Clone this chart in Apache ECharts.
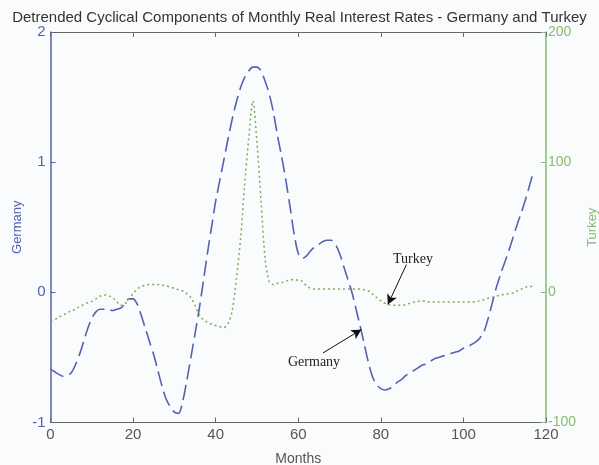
<!DOCTYPE html>
<html>
<head>
<meta charset="utf-8">
<script src="https://cdn.jsdelivr.net/npm/echarts@6/dist/echarts.min.js"></script>
<style>
html,body{margin:0;padding:0;background:#f9fbfd;}
#c{width:599px;height:465px;}
</style>
</head>
<body>
<div id="c"></div>
<script>
const months = [];
for (let m = 0; m <= 117; m++) months.push(m);

const germany = [
 -0.59,-0.61,-0.63,-0.645,-0.64,-0.62,-0.56,-0.48,-0.38,-0.28,
 -0.20,-0.15,-0.13,-0.13,-0.13,-0.14,-0.13,-0.12,-0.09,-0.05,
 -0.05,-0.09,-0.18,-0.28,-0.38,-0.48,-0.60,-0.72,-0.82,-0.88,
 -0.92,-0.93,-0.84,-0.68,-0.50,-0.32,-0.13,0.08,0.30,0.50,
 0.70,0.86,1.02,1.18,1.33,1.46,1.57,1.65,1.70,1.73,
 1.73,1.70,1.62,1.52,1.38,1.20,1.04,0.86,0.66,0.45,
 0.30,0.26,0.28,0.32,0.35,0.37,0.39,0.40,0.40,0.37,
 0.30,0.20,0.10,0.00,-0.13,-0.26,-0.40,-0.54,-0.65,-0.71,
 -0.74,-0.75,-0.74,-0.72,-0.69,-0.67,-0.64,-0.62,-0.60,-0.58,
 -0.56,-0.55,-0.53,-0.51,-0.50,-0.49,-0.48,-0.47,-0.46,-0.45,
 -0.43,-0.42,-0.40,-0.38,-0.35,-0.30,-0.20,-0.08,0.04,0.14,
 0.23,0.32,0.42,0.52,0.61,0.71,0.82,0.93
];

const turkey = [
 -22,-21,-19,-17.5,-16,-14,-13,-11,-9.5,-8,
 -7,-5,-3,-2,-2.5,-4,-7,-10,-9,-5,
 -1,2.5,4.5,5.5,6,6,6,5.5,5,4,
 3,2,1,-1,-4,-10,-17,-21,-23,-24.5,
 -25.5,-26.5,-27,-24,-14,10,40,82,118,147,
 115,70,25,8,6,7,7.5,8.5,9.5,10,
 9,8.5,5,3,2.5,2.5,2.5,2.5,2.5,2.5,
 2.5,2.5,2.5,2.5,2.5,2.5,2,1,-1.5,-4,
 -6.5,-8.5,-9.5,-10,-10,-10,-9.5,-8.5,-7.5,-7,
 -6.5,-7,-7.5,-7.5,-7.5,-7.5,-7.5,-7.5,-7.5,-7.5,
 -7.5,-7.5,-7.5,-7,-6.5,-5.5,-4.5,-4,-3,-2,
 -1.5,-1,-0.5,1,2.5,4,4.5,4.5
];

const titleText = 'Detrended Cyclical Components of Monthly Real Interest Rates - Germany and Turkey';

const blue = '#5462b0';
const green = '#86bd6e';
const gray = '#555555';

const chart = echarts.init(document.getElementById('c'), null, {renderer: 'canvas'});
chart.setOption({
  backgroundColor: '#f9fbfd',
  animation: false,
  title: {
    text: titleText,
    left: 'center',
    top: 5,
    textStyle: {fontFamily: 'Liberation Sans', fontSize: 15, fontWeight: 'normal', color: '#333'}
  },
  grid: {left: 50.5, right: 53, top: 32, bottom: 42.5, containLabel: false, outerBoundsMode: 'none'},
  xAxis: [{
    type: 'value', min: 0, max: 120, interval: 20, position: 'bottom',
    name: 'Months', nameLocation: 'middle', nameGap: 30,
    nameTextStyle: {fontFamily: 'Liberation Sans', fontSize: 14, color: gray},
    axisLine: {onZero: false, lineStyle: {color: '#666', width: 1}},
    axisTick: {inside: true, length: 5, lineStyle: {color: '#666'}},
    axisLabel: {fontFamily: 'Liberation Sans', fontSize: 15, color: gray, margin: 5},
    splitLine: {show: false}
  }, {
    type: 'value', min: 0, max: 120, interval: 20, position: 'top',
    axisLine: {onZero: false, lineStyle: {color: '#666', width: 1}},
    axisTick: {inside: true, length: 5, lineStyle: {color: '#666'}},
    axisLabel: {show: false},
    splitLine: {show: false}
  }],
  yAxis: [{
    type: 'value', min: -1, max: 2, interval: 1, position: 'left',
    name: 'Germany', nameLocation: 'middle', nameGap: 27, nameRotate: 90,
    nameMoveOverlap: false,
    nameTextStyle: {fontFamily: 'Liberation Sans', fontSize: 13, color: blue},
    axisLine: {show: true, onZero: false, lineStyle: {color: blue, width: 1.5}},
    axisTick: {inside: true, length: 5, lineStyle: {color: blue}},
    axisLabel: {fontFamily: 'Liberation Sans', fontSize: 15, color: blue, margin: 5},
    splitLine: {show: false}
  }, {
    type: 'value', min: -100, max: 200, interval: 100, position: 'right',
    name: 'Turkey', nameLocation: 'middle', nameGap: 40, nameRotate: 90,
    nameMoveOverlap: false,
    nameTextStyle: {fontFamily: 'Liberation Sans', fontSize: 13, color: green},
    axisLine: {show: true, onZero: false, lineStyle: {color: green, width: 1.5}},
    axisTick: {inside: true, length: 5, lineStyle: {color: green}},
    axisLabel: {fontFamily: 'Liberation Sans', fontSize: 14, color: green, margin: 2},
    splitLine: {show: false}
  }],
  series: [{
    name: 'Germany', type: 'line', xAxisIndex: 0, yAxisIndex: 0,
    data: months.map((m, i) => [m, germany[i]]),
    showSymbol: false, smooth: 0.3,
    lineStyle: {color: blue, width: 1.6, type: [15, 6]},
    markLine: {
      silent: true, symbol: ['none', 'arrow'], symbolSize: [8, 10],
      label: {show: false},
      lineStyle: {color: '#111', type: 'solid', width: 1},
      data: [[{coord: [66, -0.465]}, {coord: [75.3, -0.286]}]]
    }
  }, {
    name: 'Turkey', type: 'line', xAxisIndex: 0, yAxisIndex: 1,
    data: months.map((m, i) => [m, turkey[i]]),
    showSymbol: false, smooth: 0.3,
    lineStyle: {color: '#7fab55', width: 1.5, type: [2, 3]},
    markLine: {
      silent: true, symbol: ['none', 'arrow'], symbolSize: [8, 10],
      label: {show: false},
      lineStyle: {color: '#111', type: 'solid', width: 1},
      data: [[{coord: [86.2, 21.3]}, {coord: [81.7, -9.4]}]]
    }
  }],
  graphic: [{
    type: 'text', left: 393, top: 252,
    style: {text: 'Turkey', font: '14px "Liberation Serif"', fill: '#222'}
  }, {
    type: 'text', left: 288, top: 355,
    style: {text: 'Germany', font: '14px "Liberation Serif"', fill: '#222'}
  }]
});
</script>
</body>
</html>
